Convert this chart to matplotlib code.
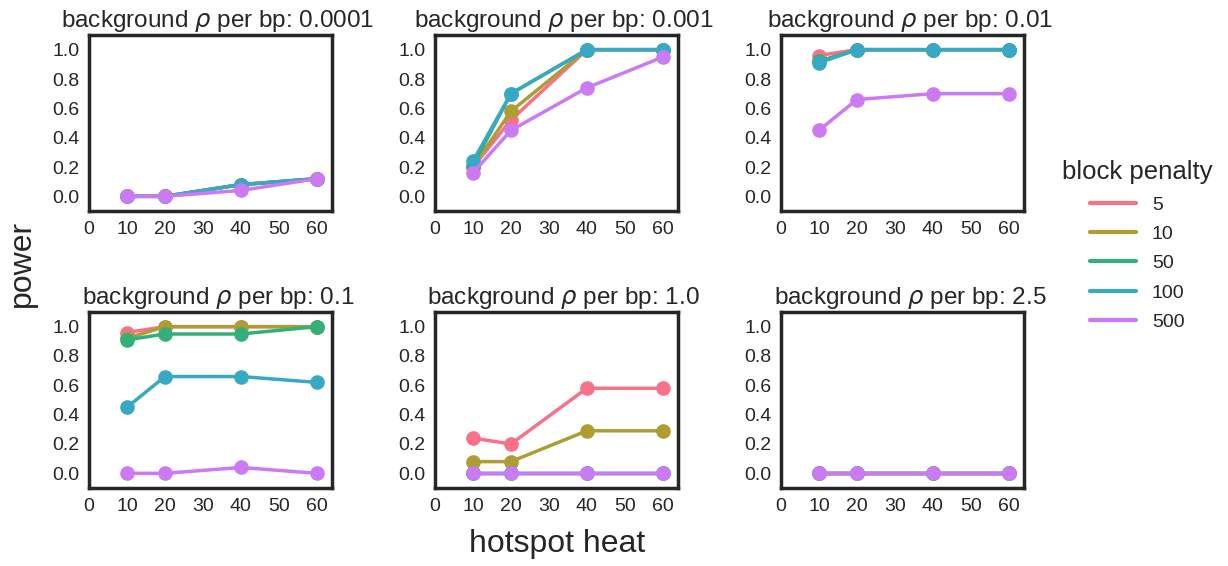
import numpy as np
import matplotlib
matplotlib.use('Agg')
import matplotlib.pyplot as plt
from matplotlib.lines import Line2D
import seaborn as sns

sns.set_style('white')
plt.rcParams['font.family'] = ['Liberation Sans', 'DejaVu Sans']
plt.rcParams['axes.edgecolor'] = '#262626'
plt.rcParams['text.color'] = '#262626'
plt.rcParams['xtick.color'] = '#262626'
plt.rcParams['ytick.color'] = '#262626'

heat = [10, 20, 40, 60]
penalties = [5, 10, 50, 100, 500]
backgrounds = ['0.0001', '0.001', '0.01', '0.1', '1.0', '2.5']

# power[background][penalty] over hotspot heat 10, 20, 40, 60
power = {
    '0.0001': {5: [0.0, 0.0, 0.08, 0.12], 10: [0.0, 0.0, 0.08, 0.12], 50: [0.0, 0.0, 0.08, 0.12],
               100: [0.0, 0.0, 0.08, 0.12], 500: [0.0, 0.0, 0.04, 0.12]},
    '0.001': {5: [0.2, 0.52, 1.0, 1.0], 10: [0.2, 0.58, 1.0, 1.0], 50: [0.21, 0.70, 1.0, 1.0],
              100: [0.24, 0.70, 1.0, 1.0], 500: [0.16, 0.45, 0.74, 0.95]},
    '0.01': {5: [0.96, 1.0, 1.0, 1.0], 10: [0.92, 1.0, 1.0, 1.0], 50: [0.92, 1.0, 1.0, 1.0],
             100: [0.91, 1.0, 1.0, 1.0], 500: [0.45, 0.66, 0.70, 0.70]},
    '0.1': {5: [0.96, 1.0, 1.0, 1.0], 10: [0.92, 1.0, 1.0, 1.0], 50: [0.91, 0.95, 0.95, 1.0],
            100: [0.45, 0.66, 0.66, 0.62], 500: [0.0, 0.0, 0.04, 0.0]},
    '1.0': {5: [0.24, 0.20, 0.58, 0.58], 10: [0.08, 0.08, 0.29, 0.29], 50: [0.0, 0.0, 0.0, 0.0],
            100: [0.0, 0.0, 0.0, 0.0], 500: [0.0, 0.0, 0.0, 0.0]},
    '2.5': {5: [0.0, 0.0, 0.0, 0.0], 10: [0.0, 0.0, 0.0, 0.0], 50: [0.0, 0.0, 0.0, 0.0],
            100: [0.0, 0.0, 0.0, 0.0], 500: [0.0, 0.0, 0.0, 0.0]},
}

colors = sns.color_palette('husl', len(penalties))

fig = plt.figure(figsize=(12.28, 5.66), dpi=100)
lefts = [89 / 1228, 435 / 1228, 781 / 1228]
bottoms = [1 - 211 / 566, 1 - 488 / 566]
w = 243 / 1228
h = 176 / 566

for i, bg in enumerate(backgrounds):
    r, c = divmod(i, 3)
    ax = fig.add_axes([lefts[c], bottoms[r], w, h])
    for k, p in enumerate(penalties):
        ax.plot(heat, power[bg][p], color=colors[k], lw=2.5, marker='o',
                markersize=9.5, label=str(p))
    ax.set_xlim(0, 64)
    ax.set_ylim(-0.1, 1.1)
    ax.set_xticks([0, 10, 20, 30, 40, 50, 60])
    ax.set_yticks([0.0, 0.2, 0.4, 0.6, 0.8, 1.0])
    ax.set_yticklabels(['0.0', '0.2', '0.4', '0.6', '0.8', '1.0'])
    ax.tick_params(labelsize=14, length=0, pad=7)
    for s in ax.spines.values():
        s.set_linewidth(2.5)
    ax.set_title(r'background $\rho$ per bp: ' + bg, fontsize=17.5, pad=6, x=0.53)

fig.text(0.018, 0.534, 'power', rotation=90, fontsize=23, va='center', ha='center')
fig.text(0.454, 0.038, 'hotspot heat', fontsize=23, va='center', ha='center')

leg_handles = [Line2D([0], [0], color=colors[k], lw=3) for k in range(len(penalties))]
leg = fig.legend(leg_handles, [str(p) for p in penalties], title='block penalty',
                 loc='center', bbox_to_anchor=(0.926, 0.566), frameon=False,
                 fontsize=14, title_fontsize=18.5, handlelength=2.4, labelspacing=0.6)

fig.savefig('out.png', dpi=100)
